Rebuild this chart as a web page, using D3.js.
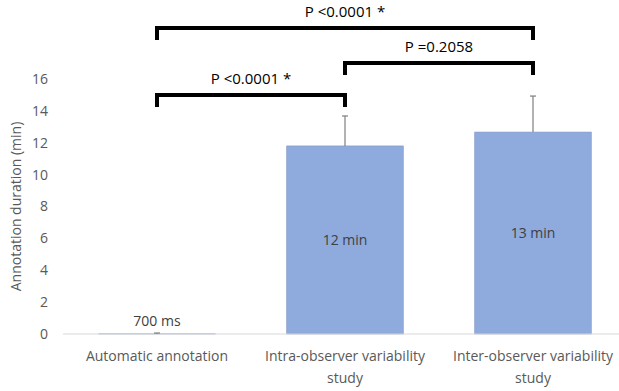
<!DOCTYPE html>
<html>
<head>
<meta charset="utf-8">
<script src="https://cdn.jsdelivr.net/npm/d3@7"></script>
<style>
  body { margin: 0; background: #fff; }
  text { font-family: "Open Sans", "Liberation Sans", sans-serif; }
</style>
</head>
<body>
<svg width="619" height="391"></svg>
<script>
const categories = [["Automatic annotation"], ["Intra-observer variability", "study"], ["Inter-observer variability", "study"]];
const values = [0.0117, 11.8, 12.67];
const errors = [0.05, 1.88, 2.26];
const barLabels = ["700 ms", "12 min", "13 min"];
const yTicks = [0, 2, 4, 6, 8, 10, 12, 14, 16];
// comparisons: [from index, to index, label, bracket level value]
const comparisons = [
  [0, 2, "P <0.0001 *", 19.2],
  [1, 2, "P =0.2058", 17.0],
  [0, 1, "P <0.0001 *", 15.0]
];

const svg = d3.select("svg");
const margin = { left: 63, right: -8, top: 79, bottom: 57 };
const width = 619, height = 391;

const x = d3.scaleBand()
  .domain(d3.range(categories.length))
  .range([margin.left, width - margin.right])
  .paddingInner(0.38).paddingOuter(0.19);

const y = d3.scaleLinear().domain([0, 16]).range([height - margin.bottom, margin.top]);

// y tick labels
svg.append("g").selectAll("text").data(yTicks).join("text")
  .attr("x", 48).attr("y", d => y(d)).attr("dy", "0.35em")
  .attr("text-anchor", "end").attr("font-size", 14).attr("fill", "#595959")
  .text(d => d);

// axis title
svg.append("text")
  .attr("transform", `translate(21,${(y(0) + y(16)) / 2}) rotate(-90)`)
  .attr("text-anchor", "middle").attr("font-size", 14).attr("fill", "#595959")
  .text("Annotation duration (min)");

// bars
svg.append("g").selectAll("rect").data(values).join("rect")
  .attr("x", (d, i) => x(i)).attr("width", x.bandwidth())
  .attr("y", d => y(d)).attr("height", d => y(0) - y(d))
  .attr("fill", "#8faadc").attr("stroke", "#7f96c4").attr("stroke-width", 0.6);

// baseline
svg.append("line")
  .attr("x1", margin.left).attr("x2", width).attr("y1", y(0)).attr("y2", y(0))
  .attr("stroke", "#d9d9d9").attr("stroke-width", 1);

// error bars
const eb = svg.append("g").attr("stroke", "#7f7f7f").attr("stroke-width", 1.2);
values.forEach((v, i) => {
  const cx = x(i) + x.bandwidth() / 2;
  eb.append("line").attr("x1", cx).attr("x2", cx).attr("y1", y(v)).attr("y2", y(v + errors[i]));
  eb.append("line").attr("x1", cx - 3).attr("x2", cx + 3).attr("y1", y(v + errors[i])).attr("y2", y(v + errors[i]));
});

// bar labels
svg.append("g").selectAll("text").data(values).join("text")
  .attr("x", (d, i) => x(i) + x.bandwidth() / 2)
  .attr("y", (d, i) => i === 0 ? y(0) - 13 : y(d / 2))
  .attr("dy", "0.35em").attr("text-anchor", "middle")
  .attr("font-size", 14).attr("fill", "#404040")
  .text((d, i) => barLabels[i]);

// category labels
svg.append("g").selectAll("text").data(categories).join("text")
  .attr("x", (d, i) => x(i) + x.bandwidth() / 2)
  .attr("y", 361).attr("text-anchor", "middle")
  .attr("font-size", 14).attr("fill", "#595959")
  .each(function(lines) {
    const t = d3.select(this);
    lines.forEach((l, k) => t.append("tspan")
      .attr("x", t.attr("x")).attr("dy", k === 0 ? 0 : 22).text(l));
  });

// significance brackets
const br = svg.append("g");
comparisons.forEach(([a, b, label, lvl]) => {
  const xa = x(a) + x.bandwidth() / 2, xb = x(b) + x.bandwidth() / 2;
  const yl = y(lvl);
  br.append("path")
    .attr("d", `M${xa},${yl + 12}V${yl}H${xb}V${yl + 12}`)
    .attr("fill", "none").attr("stroke", "#000").attr("stroke-width", 4);
  br.append("text")
    .attr("x", (xa + xb) / 2).attr("y", yl - 11)
    .attr("text-anchor", "middle").attr("font-size", 15).attr("fill", "#000")
    .text(label);
});
</script>
</body>
</html>
